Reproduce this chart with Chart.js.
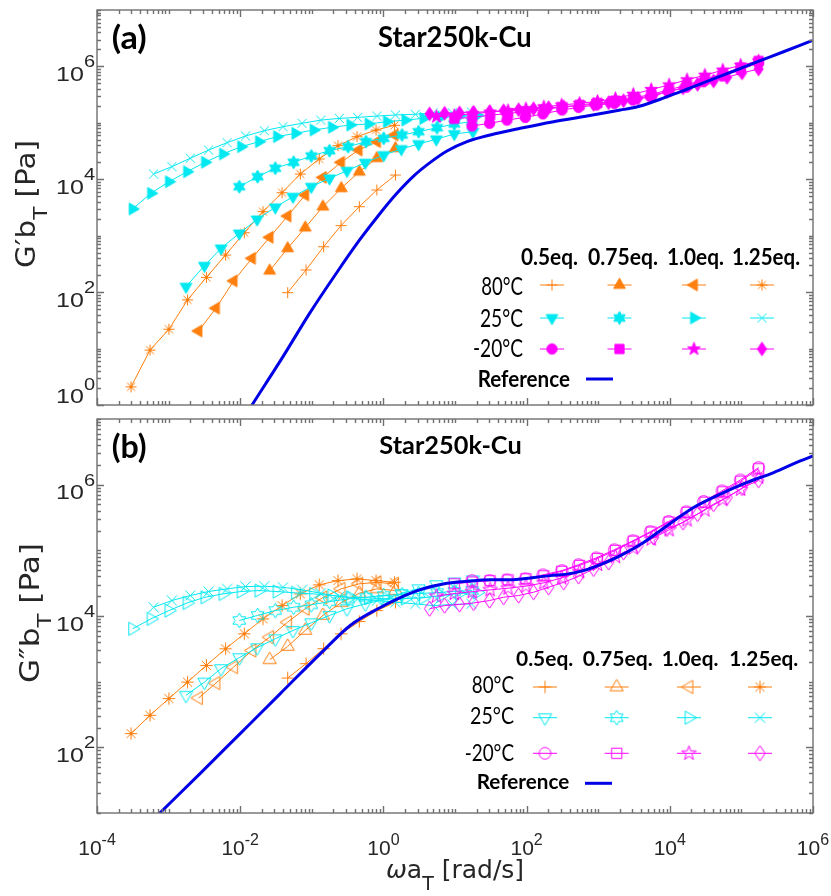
<!DOCTYPE html>
<html>
<head>
<meta charset="utf-8">
<script src="https://cdn.jsdelivr.net/npm/chart.js@4.4.1/dist/chart.umd.min.js"></script>
<style>
  html, body { margin: 0; padding: 0; background: #fff; }
  #boxA { position: absolute; left: 0; top: 0; width: 831px; height: 412px; }
  #boxB { position: absolute; left: 0; top: 412px; width: 831px; height: 484px; }
</style>
</head>
<body>
<div id="boxA"><canvas id="chartA"></canvas></div>
<div id="boxB"><canvas id="chartB"></canvas></div>
<script>
// ---- data (omega*aT in rad/s, moduli in Pa) ----
// 80 C
const x80_05 = [0.046, 0.083, 0.146, 0.256, 0.46, 0.81, 1.47];
const gp80_05 = [98, 247, 638, 1510, 3270, 6460, 11900];
const gpp80_05 = [1135, 1880, 3180, 5360, 8240, 12100, 16200];

const x80_075 = [0.0258, 0.046, 0.081, 0.143, 0.258, 0.46, 0.81, 1.47];
const gp80_075 = [240, 598, 1390, 3270, 6930, 13600, 23600, 35400];
const gpp80_075 = [2160, 3440, 6030, 10200, 16000, 22200, 25900, 24400];

const x80_10 = [0.00262, 0.00459, 0.0081, 0.0146, 0.0258, 0.0459, 0.081, 0.143, 0.256, 0.451, 0.815, 1.43];
const gp80_10 = [20.5, 52, 158, 398, 938, 2230, 5270, 10800, 20000, 33000, 46400, 61000];
const gpp80_10 = [564, 953, 1670, 2990, 4760, 8050, 12900, 19100, 25900, 30800, 32600, 30800];

const x80_125 = [2.99e-4, 5.5e-4, 1.01e-3, 1.84e-3, 3.37e-3, 6.25e-3, 0.0114, 0.0208, 0.0384, 0.069, 0.127, 0.232, 0.428, 0.789, 1.43];
const gp80_125 = [2.1, 9.4, 22, 73, 183, 455, 1130, 2670, 5780, 12400, 22900, 39400, 56900, 74700, 90600];
const gpp80_125 = [162, 308, 552, 986, 1770, 3170, 5360, 9060, 14400, 21700, 29800, 34600, 36700, 34600, 32600];

// 25 C
const x25_05 = [1.75e-3, 3.16e-3, 5.4e-3, 9.7e-3, 0.0172, 0.0309, 0.0546, 0.0984, 0.177, 0.31, 0.558, 1.01, 1.78, 3.1, 5.48, 9.77, 17.8];
const gp25_05 = [125, 294, 598, 1100, 1950, 3190, 4910, 7390, 10400, 14200, 19700, 26900, 34400, 42200, 51200, 63500, 69700];
const gpp25_05 = [620, 986, 1580, 2320, 3290, 4500, 6030, 7890, 10200, 12900, 15300, 17800, 22000, 26000, 30000, 33000, 35500];

const x25_075 = [9.7e-3, 0.0175, 0.0309, 0.0557, 0.0984, 0.177, 0.321, 0.571, 1.01, 1.82, 3.1, 5.61, 9.77, 17.3];
const gp25_075 = [7390, 11100, 15700, 20000, 25900, 32100, 37800, 46400, 53200, 61000, 69700, 82000, 95500, 105000];
const gpp25_075 = [8550, 10200, 12100, 13600, 14800, 16600, 18200, 19300, 20500, 21200, 22000, 22700, 23600, 24400];

const x25_10 = [3.14e-4, 5.68e-4, 1.01e-3, 1.81e-3, 3.22e-3, 5.75e-3, 0.0103, 0.0183, 0.0327, 0.0589, 0.106, 0.191, 0.345, 0.621, 1.12, 2.02, 3.61, 6.43, 11.5, 20.5];
const gp25_10 = [2980, 5650, 9060, 13600, 20000, 28100, 37800, 46400, 56900, 65300, 74700, 83400, 91600, 95500, 105000, 112000, 120000, 127000, 132000, 136000];
const gpp25_10 = [6380, 9060, 12100, 15800, 19300, 21700, 23600, 24400, 23600, 22500, 21700, 20500, 19300, 18900, 18200, 18400, 18900, 20500, 22000, 22700];

const x25_125 = [6.17e-4, 1.11e-3, 2.01e-3, 3.62e-3, 6.55e-3, 0.0119, 0.0217, 0.0396, 0.073, 0.134, 0.242, 0.437, 0.815, 1.47, 2.79, 4.98, 9.16, 16.9];
const gp25_125 = [12400, 16700, 23600, 33000, 44500, 58500, 72600, 85500, 98200, 112000, 120000, 125000, 132000, 138000, 142000, 150000, 151000, 156000];
const gpp25_125 = [13600, 17200, 20500, 23600, 25900, 28100, 28400, 27400, 25000, 22200, 19800, 18200, 17200, 16200, 15300, 14400, 15000, 15300];

// -20 C
const xm20_05 = [17.3, 30.4, 53.2, 95.9, 169, 312, 532, 940, 1680, 3060, 5350, 9620, 17000, 29600, 53600, 96600, 174000];
const gpm20_05 = [87900, 98200, 112000, 125000, 144000, 169000, 189000, 207000, 222000, 254000, 291000, 357000, 427000, 536000, 676000, 865000, 1160000];
const gppm20_05 = [34600, 34600, 35500, 36700, 42300, 49100, 60500, 76600, 102000, 140000, 192000, 275000, 386000, 555000, 805000, 1180000, 1820000];

const xm20_075 = [9.77, 17.4, 30.9, 55.0, 97.7, 174, 309, 550, 977, 1740, 3090, 5500, 9770, 17400, 30900, 55000, 97700, 174000];
const gpm20_075 = [118000, 126000, 136000, 147000, 158000, 172000, 190000, 208000, 225000, 245000, 275000, 320000, 385000, 470000, 590000, 740000, 950000, 1250000];
const gppm20_075 = [31000, 33000, 34500, 35500, 37000, 41000, 48000, 59000, 75000, 100000, 138000, 190000, 270000, 380000, 540000, 780000, 1130000, 1750000];

const xm20_10 = [5.5, 9.77, 17.4, 30.9, 55.0, 97.7, 174, 309, 550, 977, 1740, 3090, 5500, 9770, 17400, 30900, 55000, 97700, 174000];
const gpm20_10 = [128000, 135000, 145000, 155000, 165000, 178000, 192000, 207000, 222000, 240000, 270000, 320000, 390000, 470000, 580000, 700000, 860000, 1050000, 1250000];
const gppm20_10 = [20000, 22000, 23500, 25000, 26500, 28500, 32000, 38000, 47000, 61000, 80000, 108000, 148000, 205000, 290000, 410000, 590000, 850000, 1300000];

const xm20_125 = [4.42, 7.16, 11.6, 18.2, 30.4, 47.7, 77.3, 125, 203, 329, 532, 863, 1400, 2260, 3600, 5940, 9140, 15300, 24400, 40900, 63000, 102000, 174000];
const gpm20_125 = [144000, 148000, 150000, 154000, 158000, 164000, 171000, 178000, 186000, 193000, 201000, 213000, 228000, 247000, 272000, 312000, 357000, 415000, 482000, 552000, 641000, 766000, 900000];
const gppm20_125 = [12900, 14400, 15000, 15800, 17200, 19300, 20500, 23000, 27400, 32600, 40200, 52100, 65600, 93100, 118000, 157000, 211000, 266000, 357000, 506000, 637000, 885000, 1170000];

// reference curves
const xRefA = [0.0146, 0.0396, 0.0931, 0.22, 0.465, 0.885, 1.51, 2.64, 4.52, 7.73, 14.7, 31.1, 81.7, 238, 698, 2040, 2810, 3870, 5350, 7370, 10200, 15600, 33100, 77800, 165000, 388000, 968000];
const gpRef = [1.0, 7.2, 42, 216, 840, 2430, 5480, 11400, 19900, 31700, 46400, 61000, 80100, 105000, 132000, 169000, 181000, 199000, 227000, 262000, 307000, 374000, 543000, 826000, 1200000, 1820000, 2860000];
const xRefB = [7.48e-4, 2.77e-3, 0.01, 0.0363, 0.132, 0.344, 0.906, 1.72, 3.27, 7.73, 14.7, 31.1, 65.8, 113, 214, 366, 698, 1070, 2040, 4310, 9140, 21500, 50700, 120000, 282000, 664000, 1000000];
const gppRef = [9.9, 40.1, 162, 658, 2670, 7180, 13500, 19100, 25200, 31500, 33700, 35500, 35800, 38000, 41200, 43400, 50800, 60500, 83000, 132000, 237000, 450000, 718000, 1080000, 1530000, 2300000, 2740000];

const xTickExp = [-4, -2, 0, 2, 4, 6];
const yTickExpA = [0, 2, 4, 6];
const yTickExpB = [2, 4, 6];
const eqLabels = ["0.5eq.", "0.75eq.", "1.0eq.", "1.25eq."];
const tempLabels = ["80°C", "25°C", "-20°C"];

const ORANGE = "#ff7f0e";
const CYAN = "#00e8f0";
const MAGENTA = "#ff00ff";
const BLUE = "#0000e6";
const FRAME = "#707070";
const TXT = "#262626";

// ---- marker images (MATLAB style) ----
function makeMarker(shape, color, filled, k) {
  const S = 21, c = S / 2;
  const cv = document.createElement("canvas");
  cv.width = S; cv.height = S;
  const g = cv.getContext("2d");
  g.strokeStyle = color; g.fillStyle = color; g.lineWidth = 1;
  const star = (n, R, r, a0) => {
    g.beginPath();
    for (let i = 0; i < 2 * n; i++) {
      const rr = (i % 2 === 0 ? R : r) * k;
      const a = a0 + i * Math.PI / n;
      const px = c + rr * Math.cos(a), py = c + rr * Math.sin(a);
      if (i === 0) g.moveTo(px, py); else g.lineTo(px, py);
    }
    g.closePath();
  };
  const tri = (a0) => {
    g.beginPath();
    for (let i = 0; i < 3; i++) {
      const a = a0 + i * 2 * Math.PI / 3;
      const px = c + 6.8 * k * Math.cos(a), py = c + 6.8 * k * Math.sin(a);
      if (i === 0) g.moveTo(px, py); else g.lineTo(px, py);
    }
    g.closePath();
  };
  if (shape === "plus" || shape === "x" || shape === "aster") {
    g.beginPath();
    const h = 5.5 * k;
    if (shape !== "x") { g.moveTo(c - h, c); g.lineTo(c + h, c); g.moveTo(c, c - h); g.lineTo(c, c + h); }
    if (shape !== "plus") { const d = (shape === "x" ? 4.5 : 4) * k; g.moveTo(c - d, c - d); g.lineTo(c + d, c + d); g.moveTo(c - d, c + d); g.lineTo(c + d, c - d); }
    g.stroke();
    return cv;
  }
  if (shape === "circle") { g.beginPath(); g.arc(c, c, 5.2 * k, 0, 2 * Math.PI); }
  else if (shape === "square") { g.beginPath(); g.rect(c - 4.6 * k, c - 4.6 * k, 9.2 * k, 9.2 * k); }
  else if (shape === "diamond") { g.beginPath(); g.moveTo(c, c - 6.8 * k); g.lineTo(c + 4.6 * k, c); g.lineTo(c, c + 6.8 * k); g.lineTo(c - 4.6 * k, c); g.closePath(); }
  else if (shape === "up") tri(-Math.PI / 2);
  else if (shape === "down") tri(Math.PI / 2);
  else if (shape === "left") tri(Math.PI);
  else if (shape === "right") tri(0);
  else if (shape === "pent") star(5, 6.8, 2.7, -Math.PI / 2);
  else if (shape === "hex") star(6, 6.6, 3.8, -Math.PI / 2);
  if (filled) g.fill();
  g.stroke();
  return cv;
}

const shapes = [
  ["plus", "up", "left", "aster"],      // 80 C
  ["down", "hex", "right", "x"],        // 25 C
  ["circle", "square", "pent", "diamond"] // -20 C
];
const rowColors = [ORANGE, CYAN, MAGENTA];

function markerSet(filled, k) {
  return shapes.map((row, i) => row.map(s => makeMarker(s, rowColors[i], filled, k)));
}
const markersA = markerSet(true, 1.0);
const markersB = markerSet(false, 1.12);

function series(xs, ys, color, img) {
  return {
    data: xs.map((x, i) => ({ x: x, y: ys[i] })),
    borderColor: color,
    backgroundColor: color,
    borderWidth: 1,
    pointStyle: img,
    pointRadius: 6,
    showLine: true,
    tension: 0,
    clip: 0
  };
}

function refSeries(xs, ys) {
  return {
    data: xs.map((x, i) => ({ x: x, y: ys[i] })),
    borderColor: BLUE,
    borderWidth: 3,
    pointRadius: 0,
    showLine: true,
    cubicInterpolationMode: "monotone",
    clip: 0
  };
}

// reference first so it ends up on top
function buildSets(isA) {
  const m = isA ? markersA : markersB;
  const X = [[x80_05, x80_075, x80_10, x80_125], [x25_05, x25_075, x25_10, x25_125], [xm20_05, xm20_075, xm20_10, xm20_125]];
  const Y = isA
    ? [[gp80_05, gp80_075, gp80_10, gp80_125], [gp25_05, gp25_075, gp25_10, gp25_125], [gpm20_05, gpm20_075, gpm20_10, gpm20_125]]
    : [[gpp80_05, gpp80_075, gpp80_10, gpp80_125], [gpp25_05, gpp25_075, gpp25_10, gpp25_125], [gppm20_05, gppm20_075, gppm20_10, gppm20_125]];
  const sets = [isA ? refSeries(xRefA, gpRef) : refSeries(xRefB, gppRef)];
  for (let r = 2; r >= 0; r--) {
    for (let c = 3; c >= 0; c--) {
      sets.push(series(X[r][c], Y[r][c], rowColors[r], m[r][c]));
    }
  }
  return sets;
}

// ---- text helpers ----
function rich(ctx, parts, x, y, align, scaleX) {
  let total = 0;
  parts.forEach(p => { ctx.font = p.font; p.w = ctx.measureText(p.t).width; total += p.w; });
  const sx = scaleX || 1;
  ctx.save();
  ctx.textAlign = "left";
  ctx.translate(x, y);
  ctx.scale(sx, 1);
  let cx = align === "center" ? -total / 2 : align === "right" ? -total : 0;
  parts.forEach(p => { ctx.font = p.font; ctx.fillText(p.t, cx, p.dy || 0); cx += p.w; });
  ctx.restore();
  return total;
}

// draw text squeezed/stretched to a given width
function fitText(ctx, text, x, y, w, align) {
  const nat = ctx.measureText(text).width;
  ctx.save();
  ctx.textAlign = "left";
  ctx.translate(x, y);
  ctx.scale(w / nat, 1);
  const off = align === "center" ? -nat / 2 : align === "right" ? -nat : 0;
  ctx.fillText(text, off, 0);
  ctx.restore();
}

const TICKFONT = "20px 'Liberation Sans'";
const EXPFONT = "16px 'Liberation Sans'";

const framePlugin = {
  id: "frame",
  afterDatasetsDraw(chart, args, o) {
    const ctx = chart.ctx, a = chart.chartArea;
    const xs = chart.scales.x, ys = chart.scales.y;
    ctx.save();
    ctx.strokeStyle = FRAME;
    ctx.lineWidth = 1.4;
    ctx.beginPath();
    const ln = (x1, y1, x2, y2) => { ctx.moveTo(x1, y1); ctx.lineTo(x2, y2); };
    // x ticks, top and bottom, inward
    for (let e = -4; e <= 6; e++) {
      for (let m = 1; m <= 9; m++) {
        const v = m * Math.pow(10, e);
        if (v > xs.max * 1.001) break;
        const px = Math.round(xs.getPixelForValue(v)) + 0.5;
        const len = (m === 1 && e % 2 === 0) ? 7 : 4;
        ln(px, a.bottom, px, a.bottom - len);
        ln(px, a.top, px, a.top + len);
      }
    }
    const e0 = Math.round(Math.log10(ys.min));
    for (let e = e0; e <= 7; e++) {
      for (let m = 1; m <= 9; m++) {
        const v = m * Math.pow(10, e);
        if (v > ys.max * 1.001) break;
        if (v < ys.min * 0.999) continue;
        const py = Math.round(ys.getPixelForValue(v)) + 0.5;
        const len = (m === 1 && e % 2 === 0) ? 7 : 4;
        ln(a.left, py, a.left + len, py);
        ln(a.right, py, a.right - len, py);
      }
    }
    ctx.stroke();
    ctx.strokeRect(a.left, a.top, a.right - a.left, a.bottom - a.top);

    // tick labels
    ctx.fillStyle = TXT;
    ctx.textBaseline = "alphabetic";
    o.yExp.forEach(e => {
      const py = ys.getPixelForValue(Math.pow(10, e));
      const base = Math.min(py + 14.5, a.bottom - 2);
      rich(ctx, [{ t: "10", font: TICKFONT }, { t: String(e), font: EXPFONT, dy: -13.5 }], a.left - 2, base, "right", 1.25);
    });
    if (o.xLabels) {
      xTickExp.forEach(e => {
        const px = xs.getPixelForValue(Math.pow(10, e));
        rich(ctx, [{ t: "10", font: "21px 'Liberation Sans'" }, { t: String(e), font: EXPFONT, dy: -10 }], px, a.bottom + 42, "center");
      });
      rich(ctx, [
        { t: "ω", font: "italic 25px 'DejaVu Sans'" },
        { t: "a", font: "25px 'DejaVu Sans'" },
        { t: "T", font: "19px 'DejaVu Sans'", dy: 12 },
        { t: " [rad/s]", font: "25px 'DejaVu Sans'" }
      ], (a.left + a.right) / 2, a.bottom + 65, "center");
    }

    // y title, rotated and fitted to its length in the figure
    ctx.save();
    ctx.translate(o.yTitle.x, o.yTitle.cy);
    ctx.rotate(-Math.PI / 2);
    const yParts = [
      { t: o.yName, font: "26px 'DejaVu Sans'" },
      { t: "T", font: "19px 'DejaVu Sans'", dy: 12 },
      { t: " [Pa]", font: "26px 'DejaVu Sans'" }
    ];
    let nat = 0;
    yParts.forEach(p => { ctx.font = p.font; nat += ctx.measureText(p.t).width; });
    rich(ctx, yParts, 0, 0, "center", o.yTitle.len / nat);
    ctx.restore();

    // panel letter and sample name
    const T = o.titles;
    ctx.fillStyle = "#000";
    ctx.font = "bold 32px Lato";
    fitText(ctx, o.letter, 111.7, a.top + T.letterBase, 35, "left");
    ctx.font = T.nameFont;
    fitText(ctx, "Star250k-Cu", T.nameX, a.top + T.nameBase, T.nameW, "left");

    // legend table
    const L = o.legend;
    ctx.font = L.headFont;
    eqLabels.forEach((t, i) => fitText(ctx, t, L.hx[i], a.top + L.hy, L.hw[i], "left"));
    ctx.font = L.rowFont;
    tempLabels.forEach((t, r) => fitText(ctx, t, L.rowRight, a.top + L.rowY[r], L.rowW[r], "right"));
    ctx.font = L.headFont;
    fitText(ctx, "Reference", L.refX, a.top + L.refY, L.refW, "left");
    const mk = o.markers;
    for (let r = 0; r < 3; r++) {
      for (let c = 0; c < 4; c++) {
        const cx = L.mx[c], cy = a.top + L.my[r];
        ctx.strokeStyle = rowColors[r];
        ctx.lineWidth = 1;
        ctx.beginPath();
        ctx.moveTo(cx - 12, cy); ctx.lineTo(cx + 12, cy);
        ctx.stroke();
        const img = mk[r][c];
        ctx.drawImage(img, cx - img.width / 2, cy - img.height / 2);
      }
    }
    ctx.strokeStyle = BLUE;
    ctx.lineWidth = 3;
    ctx.beginPath();
    ctx.moveTo(L.refLine[0], a.top + L.refLineY);
    ctx.lineTo(L.refLine[1], a.top + L.refLineY);
    ctx.stroke();
    ctx.restore();
  }
};

const panelA = {
  yExp: yTickExpA, xLabels: false, yName: "G\u2032b", letter: "(a)", markers: markersA,
  yTitle: { x: 35, cy: 204, len: 128 },
  titles: { letterBase: 38.5, nameFont: "bold 28px Lato", nameX: 378, nameBase: 36.7, nameW: 153.7 },
  legend: {
    headFont: "bold 23px Lato", rowFont: "25px Lato",
    hy: 255, hx: [521, 588, 667, 732], hw: [57, 70, 57, 68],
    rowRight: 523, rowY: [285, 316.7, 346.7], rowW: [41.7, 43, 50],
    refX: 477.7, refY: 376.7, refW: 92.3,
    mx: [552, 619.5, 694, 762], my: [275, 308, 339],
    refLine: [586, 613], refLineY: 369
  }
};
const panelB = {
  yExp: yTickExpB, xLabels: true, yName: "G\u2033b", letter: "(b)", markers: markersB,
  yTitle: { x: 39, cy: 201, len: 140 },
  titles: { letterBase: 38.7, nameFont: "bold 25.5px Lato", nameX: 379.3, nameBase: 35.3, nameW: 142.4 },
  legend: {
    headFont: "bold 21px Lato", rowFont: "23px Lato",
    hy: 247, hx: [516, 582.7, 661.7, 729.3], hw: [57.3, 70, 56.6, 69],
    rowRight: 514, rowY: [273.7, 305.3, 342], rowW: [42.3, 44, 49.3],
    refX: 476.7, refY: 370.3, refW: 92.6,
    mx: [545, 616.7, 689, 760], my: [268, 298.7, 334.3],
    refLine: [585, 612], refLineY: 364.3
  }
};

function makeChart(id, isA) {
  const yMin = isA ? 1 : 10;
  return new Chart(document.getElementById(id), {
    type: "scatter",
    data: { datasets: buildSets(isA) },
    options: {
      responsive: true,
      maintainAspectRatio: false,
      animation: false,
      devicePixelRatio: 1,
      events: [],
      layout: { padding: isA ? { left: 97, right: 18, top: 10, bottom: 7 } : { left: 97, right: 18, top: 6, bottom: 83 } },
      scales: {
        x: { type: "logarithmic", min: 1e-4, max: 1e6, display: false },
        y: { type: "logarithmic", min: yMin, max: 1e7, display: false }
      },
      plugins: {
        legend: { display: false },
        tooltip: { enabled: false },
        frame: isA ? panelA : panelB
      }
    },
    plugins: [framePlugin]
  });
}

makeChart("chartA", true);
makeChart("chartB", false);
</script>
</body>
</html>
